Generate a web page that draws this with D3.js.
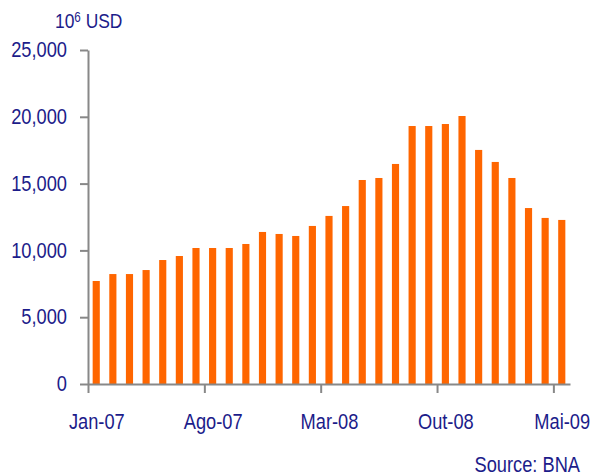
<!DOCTYPE html>
<html>
<head>
<meta charset="utf-8">
<script src="https://cdn.jsdelivr.net/npm/d3@7"></script>
<style>
  body { margin: 0; background: #fff; }
  svg text { font-family: "Liberation Sans", Arial, sans-serif; fill: #1c1c8a; }
  .axis path, .axis line { stroke: #888; stroke-width: 2; }
</style>
</head>
<body>
<svg id="chart" width="592" height="475"></svg>
<script>
const months = [
  "Jan-07","Fev-07","Mar-07","Abr-07","Mai-07","Jun-07","Jul-07","Ago-07","Set-07","Out-07","Nov-07","Dez-07",
  "Jan-08","Fev-08","Mar-08","Abr-08","Mai-08","Jun-08","Jul-08","Ago-08","Set-08","Out-08","Nov-08","Dez-08",
  "Jan-09","Fev-09","Mar-09","Abr-09","Mai-09"
];
const reserves = [
  7710, 8230, 8230, 8530, 9280, 9580, 10180, 10180, 10180, 10480, 11380, 11230,
  11080, 11830, 12580, 13320, 15270, 15420, 16470, 19310, 19310, 19460, 20060, 17520,
  16620, 15420, 13170, 12430, 12280
];
const yTicks = [0, 5000, 10000, 15000, 20000, 25000];
const labelEvery = 7;

const squeeze = 0.83; // the reference uses a condensed face

// horizontal squeeze around the text's anchor point
const condense = cx => `translate(${cx},0) scale(${squeeze},1) translate(${-cx},0)`;

const svg = d3.select("#chart");
const margin = { left: 88, right: 22, top: 50, bottom: 91 };
const w = 592 - margin.left - margin.right;
const h = 475 - margin.top - margin.bottom;

const g = svg.append("g").attr("transform", `translate(${margin.left},${margin.top})`);

const x = d3.scaleBand().domain(months).range([0, w]).paddingInner(0.57).paddingOuter(0.28);
const xi = d3.scaleLinear().domain([0, months.length]).range([0, w]);
const y = d3.scaleLinear().domain([0, 25000]).range([h, 0]);

g.selectAll(".bar")
  .data(reserves)
  .enter()
  .append("rect")
  .attr("class", "bar")
  .attr("x", (d, i) => x(months[i]))
  .attr("y", d => y(d))
  .attr("width", x.bandwidth())
  .attr("height", d => h - y(d))
  .attr("fill", "#ff6600");

// y axis
const yAxis = g.append("g")
  .attr("class", "axis")
  .call(d3.axisLeft(y).tickValues(yTicks).tickSize(8).tickSizeOuter(0).tickPadding(13)
    .tickFormat(d3.format(",")));
yAxis.selectAll("text")
  .style("font-size", "22px")
  .attr("dy", "0.3em")
  .attr("transform", condense(-21));

// x axis: ticks between months, label centred on the month
const xTickIdx = d3.range(0, months.length, labelEvery);
const xAxis = g.append("g")
  .attr("class", "axis")
  .attr("transform", `translate(0,${h})`)
  .call(d3.axisBottom(xi).tickValues(xTickIdx).tickSize(9).tickSizeOuter(0).tickPadding(20)
    .tickFormat(i => months[i]));
xAxis.selectAll("text")
  .style("font-size", "22px")
  .attr("x", x.step() / 2)
  .attr("transform", condense(x.step() / 2));

svg.append("text")
  .attr("x", 55)
  .attr("y", 28)
  .attr("transform", condense(55))
  .style("font-size", "21px")
  .html('10<tspan dy="-5.5" style="font-size:14px">6</tspan><tspan dy="5.5"> USD</tspan>');

svg.append("text")
  .attr("x", 580)
  .attr("y", 472)
  .attr("text-anchor", "end")
  .attr("transform", condense(580))
  .style("font-size", "22px")
  .text("Source: BNA");
</script>
</body>
</html>
